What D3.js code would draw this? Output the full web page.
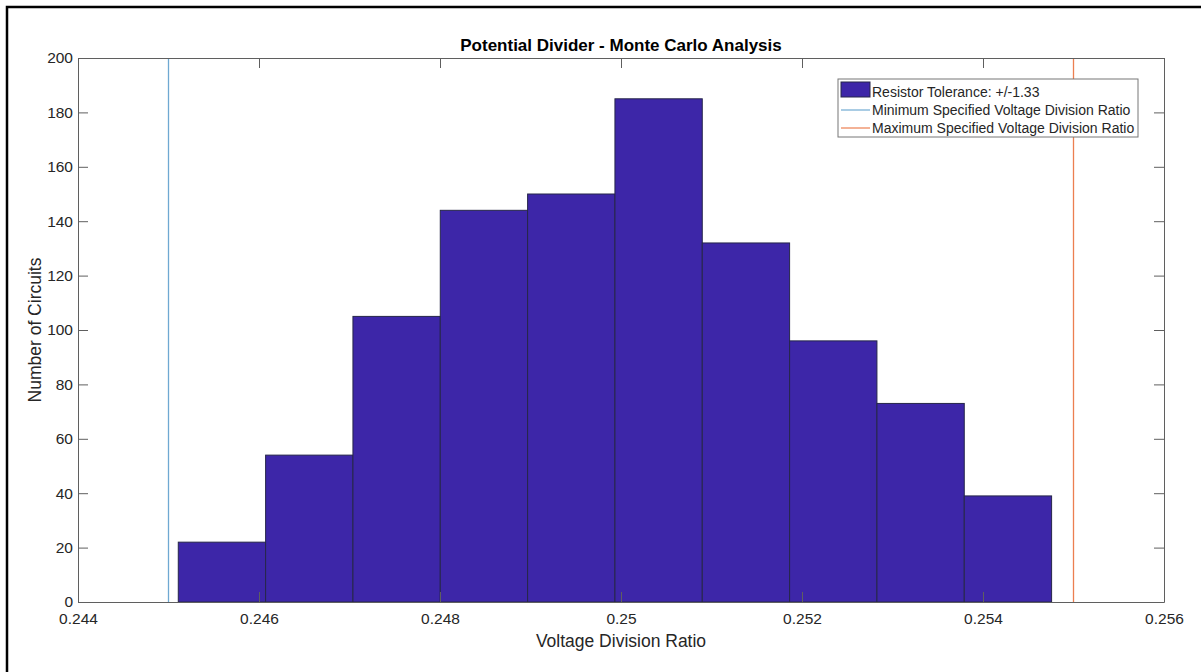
<!DOCTYPE html>
<html>
<head>
<meta charset="utf-8">
<script src="https://cdn.jsdelivr.net/npm/d3@7"></script>
<style>
  body { margin: 0; background: #fff; }
  svg text { font-family: "Liberation Sans", Arial, Helvetica, sans-serif; fill: #262626; }
</style>
</head>
<body>
<div id="chart"></div>
<script>
// histogram
const binEdges = [0.245108, 0.246073, 0.247038, 0.248003, 0.248968, 0.249933,
                  0.250898, 0.251863, 0.252828, 0.253793, 0.254758];
const counts = [22, 54, 105, 144, 150, 185, 132, 96, 73, 39];
const minRatio = 0.245;
const maxRatio = 0.255;
const xTicks = [0.244, 0.246, 0.248, 0.25, 0.252, 0.254, 0.256];
const yTicks = [0, 20, 40, 60, 80, 100, 120, 140, 160, 180, 200];
const legendLabels = ["Resistor Tolerance: +/-1.33",
                      "Minimum Specified Voltage Division Ratio",
                      "Maximum Specified Voltage Division Ratio"];

const W = 1201, H = 672;
const margin = { top: 58, right: 37, bottom: 70, left: 78 };

const barColor = "#3d26a8";
const minColor = "#6fa9d2";
const maxColor = "#ec7f50";
const axisColor = "#5f5f5f";

const bins = counts.map((c, i) => ({ x0: binEdges[i], x1: binEdges[i + 1], count: c }));

const x = d3.scaleLinear([0.244, 0.256], [margin.left, W - margin.right]);
const y = d3.scaleLinear([0, 200], [H - margin.bottom, margin.top]);

const svg = d3.select("#chart").append("svg")
  .attr("width", W)
  .attr("height", H);

// outer frame (left + top only visible)
svg.append("path")
  .attr("d", `M7,${H} L7,7 L${W},7`)
  .attr("fill", "none")
  .attr("stroke", "#000")
  .attr("stroke-width", 2.5);

// bars
svg.append("g")
  .selectAll("rect")
  .data(bins)
  .join("rect")
  .attr("x", d => x(d.x0))
  .attr("y", d => y(d.count))
  .attr("width", d => x(d.x1) - x(d.x0))
  .attr("height", d => y(0) - y(d.count))
  .attr("fill", barColor)
  .attr("stroke", "#26264a")
  .attr("stroke-width", 1);

// spec limits
svg.append("line")
  .attr("x1", x(minRatio)).attr("x2", x(minRatio))
  .attr("y1", y(0)).attr("y2", y(200))
  .attr("stroke", minColor).attr("stroke-width", 1.3);

svg.append("line")
  .attr("x1", x(maxRatio)).attr("x2", x(maxRatio))
  .attr("y1", y(0)).attr("y2", y(200))
  .attr("stroke", maxColor).attr("stroke-width", 1.3);

// axes, ticks pointing inwards
const fmtX = d => d === 0.25 ? "0.25" : d3.format(".3f")(d);

const styleAxis = g => {
  g.select(".domain").attr("stroke", axisColor);
  g.selectAll(".tick line").attr("stroke", axisColor);
  g.selectAll(".tick text").attr("fill", "#262626").style("font-size", "15.5px")
    .attr("font-family", null);
};

svg.append("g")
  .attr("transform", `translate(0,${y(0)})`)
  .call(d3.axisBottom(x).tickValues(xTicks).tickFormat(fmtX)
    .tickSizeInner(-10).tickSizeOuter(0).tickPadding(11))
  .call(styleAxis);

svg.append("g")
  .attr("transform", `translate(0,${y(200)})`)
  .call(d3.axisTop(x).tickValues(xTicks).tickFormat("")
    .tickSizeInner(-10).tickSizeOuter(0))
  .call(styleAxis);

svg.append("g")
  .attr("transform", `translate(${x(0.244)},0)`)
  .call(d3.axisLeft(y).tickValues(yTicks)
    .tickSizeInner(-10).tickSizeOuter(0).tickPadding(5))
  .call(styleAxis);

svg.append("g")
  .attr("transform", `translate(${x(0.256)},0)`)
  .call(d3.axisRight(y).tickValues(yTicks).tickFormat("")
    .tickSizeInner(-10).tickSizeOuter(0))
  .call(styleAxis);

// title and labels
svg.append("text")
  .attr("x", (x(0.244) + x(0.256)) / 2)
  .attr("y", 51)
  .attr("text-anchor", "middle")
  .style("font-size", "17px")
  .style("font-weight", "bold")
  .style("fill", "#000")
  .text("Potential Divider - Monte Carlo Analysis");

svg.append("text")
  .attr("x", (x(0.244) + x(0.256)) / 2)
  .attr("y", 647)
  .attr("text-anchor", "middle")
  .style("font-size", "17.5px")
  .text("Voltage Division Ratio");

svg.append("text")
  .attr("transform", `translate(41,${(y(0) + y(200)) / 2}) rotate(-90)`)
  .attr("text-anchor", "middle")
  .style("font-size", "17.5px")
  .text("Number of Circuits");

// legend
const legend = svg.append("g").attr("transform", "translate(838,79)");

legend.append("rect")
  .attr("width", 300)
  .attr("height", 58)
  .attr("fill", "#fff")
  .attr("stroke", "#777")
  .attr("stroke-width", 1);

legend.append("rect")
  .attr("x", 3).attr("y", 3)
  .attr("width", 29).attr("height", 15)
  .attr("fill", barColor)
  .attr("stroke", "#26264a");

legend.append("line")
  .attr("x1", 3).attr("x2", 32).attr("y1", 31).attr("y2", 31)
  .attr("stroke", minColor).attr("stroke-width", 1.2);

legend.append("line")
  .attr("x1", 3).attr("x2", 32).attr("y1", 49).attr("y2", 49)
  .attr("stroke", maxColor).attr("stroke-width", 1.2);

legend.selectAll("text.lab")
  .data(legendLabels)
  .join("text")
  .attr("class", "lab")
  .attr("x", 34)
  .attr("y", (d, i) => 13 + i * 18)
  .attr("dy", "0.35em")
  .style("font-size", "14px")
  .text(d => d);
</script>
</body>
</html>
